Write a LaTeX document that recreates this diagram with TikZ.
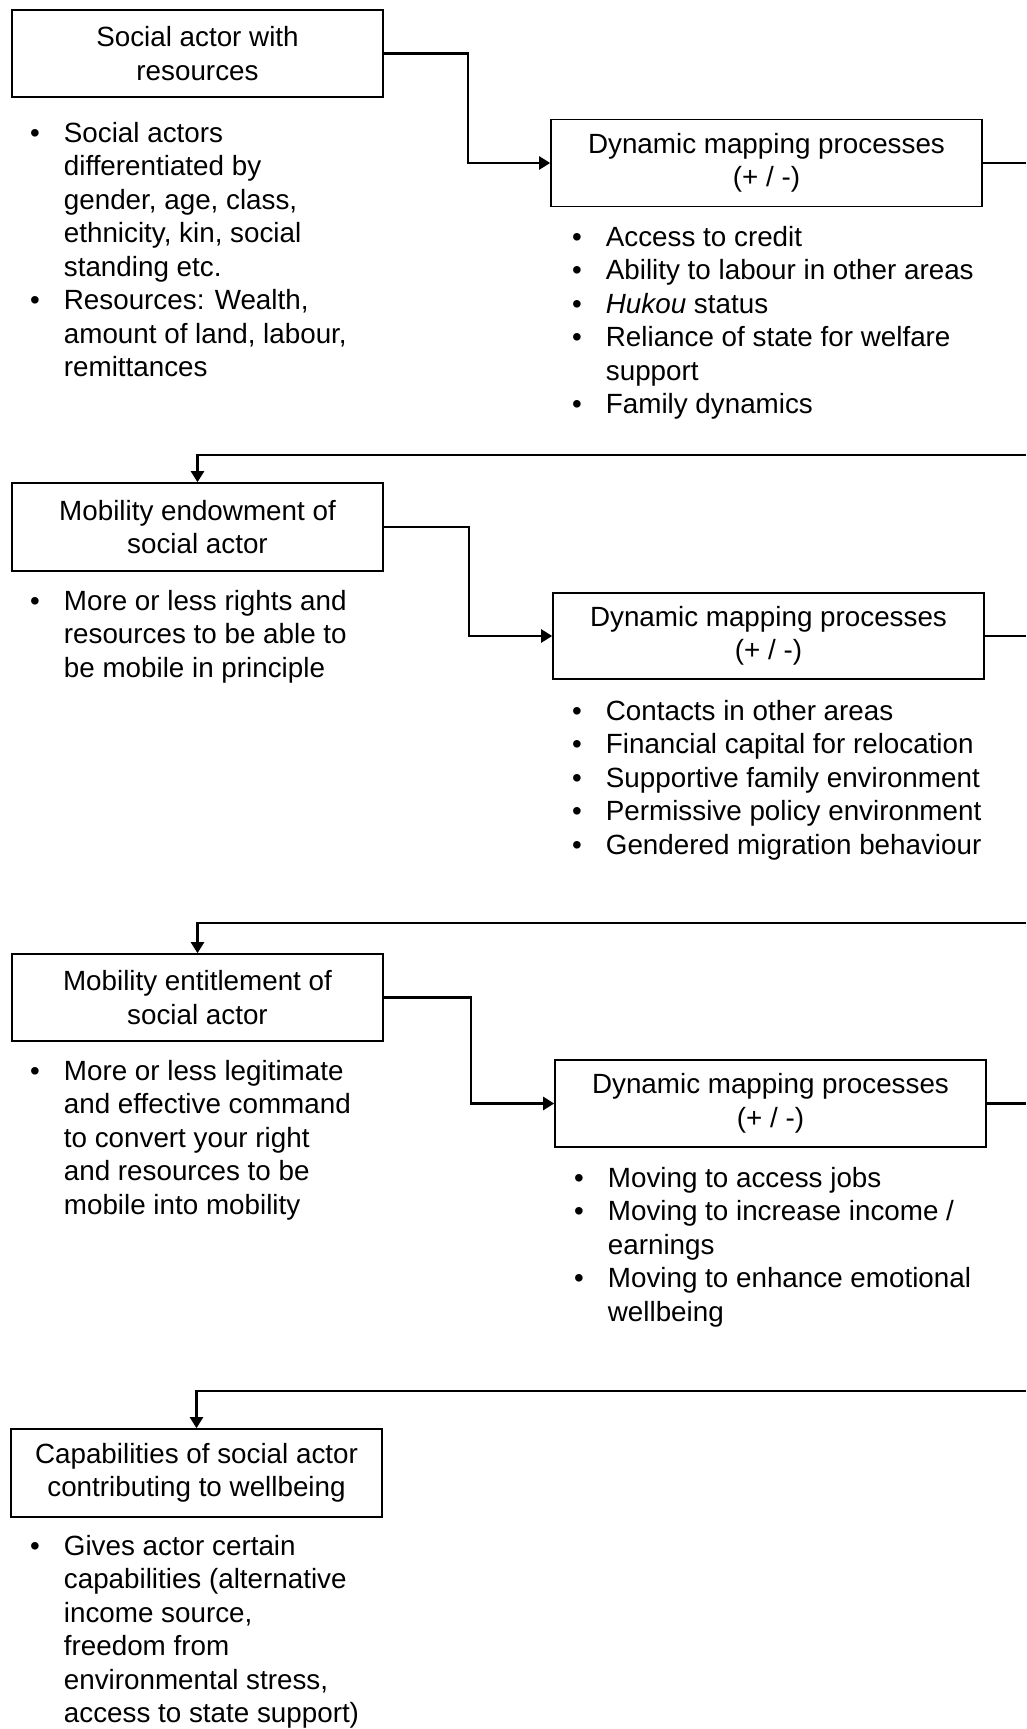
\documentclass[tikz,border=0pt]{standalone}
\usepackage{fontspec}
\setmainfont{Liberation Sans}
\usetikzlibrary{arrows.meta}

% bullet and continuation indents for the item lists
\newcommand\bul{\makebox[33.7pt][l]{•}}
\newcommand\cont{\hspace*{33.7pt}}
\newcommand\firstline{\rule{0pt}{25pt}}

\begin{document}
\begin{tikzpicture}[x=1pt,y=-1pt,
  txt/.style={font=\fontsize{27.8}{33.5}\selectfont},
  box/.style={txt, draw=black, line width=1.6pt, align=center, inner sep=0pt,
              minimum width=371pt, minimum height=87pt},
  dmbox/.style={box, minimum width=431pt},
  itemlist/.style={txt, align=left, inner sep=0pt, anchor=north west},
  conn/.style={line width=2.3pt, draw=black},
  arr/.style={conn, -{Triangle[length=11pt,width=13pt]}}
]
\useasboundingbox (0,0) rectangle (1026,1729);

% ---- stage 1 ----
\node[box] (b1) at (197.5,53.5) {Social actor with\\resources};
\node[itemlist] (l1) at (30,117) {\firstline\bul Social actors\\
  \cont differentiated by\\
  \cont gender, age, class,\\
  \cont ethnicity, kin, social\\
  \cont standing etc.\\
  \bul Resources: Wealth,\\
  \cont amount of land, labour,\\
  \cont remittances};

\node[dmbox] (b2) at (766.5,163) {Dynamic mapping processes\\(+ / -)};
\node[itemlist] (l2) at (572,221) {\firstline\bul Access to credit\\
  \bul Ability to labour in other areas\\
  \bul \textit{Hukou} status\\
  \bul Reliance of state for welfare\\
  \cont support\\
  \bul Family dynamics};

% ---- stage 2 ----
\node[box, minimum height=88pt] (b3) at (197.5,527) {Mobility endowment of\\social actor};
\node[itemlist] (l3) at (30,585) {\firstline\bul More or less rights and\\
  \cont resources to be able to\\
  \cont be mobile in principle};

\node[dmbox, minimum height=86pt] (b4) at (768.5,636) {Dynamic mapping processes\\(+ / -)};
\node[itemlist] (l4) at (572,695) {\firstline\bul Contacts in other areas\\
  \bul Financial capital for relocation\\
  \bul Supportive family environment\\
  \bul Permissive policy environment\\
  \bul Gendered migration behaviour};

% ---- stage 3 ----
\node[box] (b5) at (197.5,997.5) {Mobility entitlement of\\social actor};
\node[itemlist] (l5) at (30,1055) {\firstline\bul More or less legitimate\\
  \cont and effective command\\
  \cont to convert your right\\
  \cont and resources to be\\
  \cont mobile into mobility};

\node[dmbox] (b6) at (770.5,1103.5) {Dynamic mapping processes\\(+ / -)};
\node[itemlist] (l6) at (574,1162) {\firstline\bul Moving to access jobs\\
  \bul Moving to increase income /\\
  \cont earnings\\
  \bul Moving to enhance emotional\\
  \cont wellbeing};

% ---- stage 4 ----
\node[box, minimum height=88pt] (b7) at (196.5,1473) {Capabilities of social actor\\contributing to wellbeing};
\node[itemlist] (l7) at (30,1530) {\firstline\bul Gives actor certain\\
  \cont capabilities (alternative\\
  \cont income source,\\
  \cont freedom from\\
  \cont environmental stress,\\
  \cont access to state support)};

% ---- connectors ----
\coordinate (x1) at (1026,163);
\coordinate (x2) at (1026,636);
\coordinate (x3) at (1026,1103.5);
\coordinate (r1) at (1026,455);
\coordinate (r2) at (1026,923);
\coordinate (r3) at (1026,1391);

\draw[arr] (b1.east) -- ++(84,0) |- (b2.west);
\draw[conn] (b2.east) -- (x1);
\draw[arr] (r1) -| (b3.north);

\draw[arr] (b3.east) -- ++(85,0) |- (b4.west);
\draw[conn] (b4.east) -- (x2);
\draw[arr] (r2) -| (b5.north);

\draw[arr] (b5.east) -- ++(87,0) |- (b6.west);
\draw[conn] (b6.east) -- (x3);
\draw[arr] (r3) -| (b7.north);
\end{tikzpicture}
\end{document}
